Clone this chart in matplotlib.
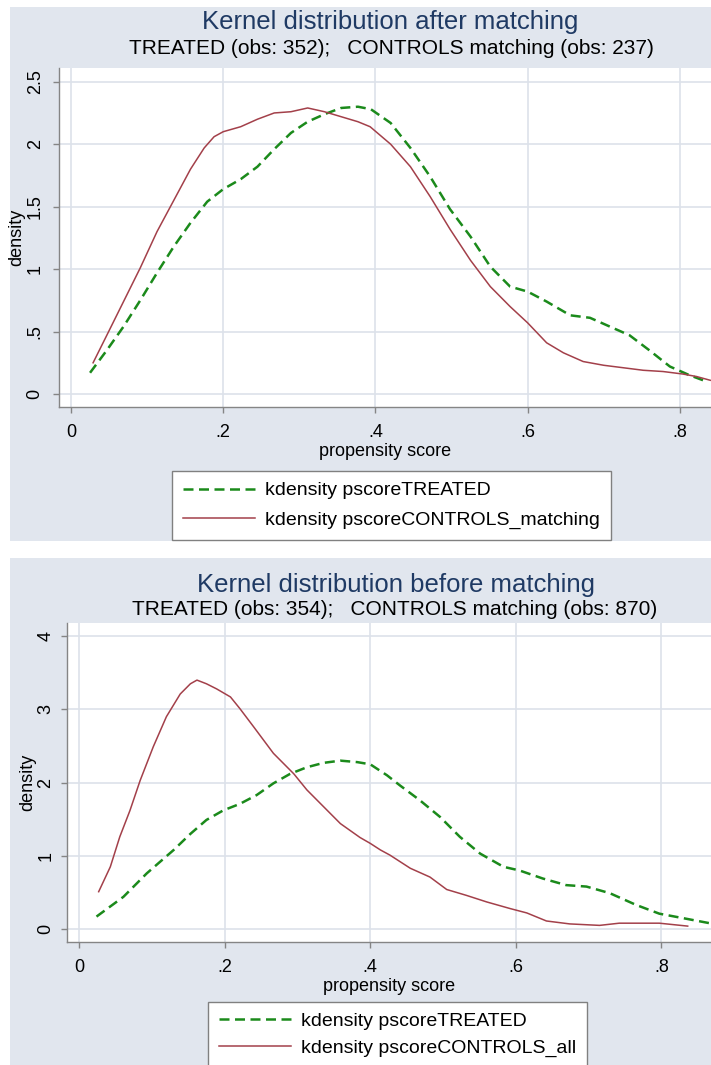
# ─────────────────────────────────────────
# Kernel density of propensity score, before / after matching
# ─────────────────────────────────────────
import matplotlib
matplotlib.use("Agg")
import matplotlib.pyplot as plt
from matplotlib.patches import Rectangle

plt.rcParams["font.family"] = ["Liberation Sans", "DejaVu Sans"]

# ── Data ──────────────────────────────────────────────────────────────────────
after_treated_x = [0.025, 0.047, 0.069, 0.091, 0.113, 0.135, 0.157, 0.179, 0.200,
                   0.223, 0.245, 0.267, 0.289, 0.311, 0.333, 0.355, 0.377, 0.394,
                   0.420, 0.446, 0.472, 0.498, 0.525, 0.551, 0.577, 0.600, 0.625,
                   0.656, 0.682, 0.708, 0.734, 0.760, 0.787, 0.813, 0.835]
after_treated_y = [0.17, 0.35, 0.54, 0.75, 0.97, 1.18, 1.37, 1.54, 1.64,
                   1.72, 1.82, 1.96, 2.09, 2.18, 2.24, 2.29, 2.30, 2.28,
                   2.17, 1.97, 1.74, 1.48, 1.26, 1.02, 0.86, 0.82, 0.74,
                   0.63, 0.61, 0.54, 0.47, 0.35, 0.22, 0.15, 0.10]

after_controls_x = [0.029, 0.047, 0.069, 0.091, 0.113, 0.135, 0.157, 0.175, 0.188,
                    0.200, 0.223, 0.245, 0.267, 0.289, 0.311, 0.333, 0.355, 0.377,
                    0.393, 0.420, 0.446, 0.472, 0.498, 0.525, 0.551, 0.577, 0.600,
                    0.625, 0.647, 0.673, 0.700, 0.726, 0.752, 0.778, 0.804, 0.822,
                    0.840]
after_controls_y = [0.25, 0.47, 0.74, 1.01, 1.30, 1.55, 1.80, 1.97, 2.06,
                    2.10, 2.14, 2.20, 2.25, 2.26, 2.29, 2.26, 2.22, 2.18,
                    2.14, 2.00, 1.82, 1.58, 1.32, 1.07, 0.86, 0.70, 0.57,
                    0.41, 0.33, 0.26, 0.23, 0.21, 0.19, 0.18, 0.16, 0.14,
                    0.11]

before_treated_x = [0.024, 0.061, 0.093, 0.130, 0.153, 0.175, 0.198, 0.221, 0.244,
                    0.267, 0.290, 0.313, 0.336, 0.359, 0.382, 0.400, 0.423, 0.441,
                    0.468, 0.496, 0.523, 0.551, 0.583, 0.605, 0.637, 0.669, 0.697,
                    0.729, 0.765, 0.797, 0.829, 0.866]
before_treated_y = [0.17, 0.44, 0.76, 1.08, 1.30, 1.49, 1.62, 1.71, 1.83,
                    1.99, 2.12, 2.21, 2.27, 2.30, 2.28, 2.25, 2.10, 1.96,
                    1.76, 1.53, 1.26, 1.03, 0.85, 0.80, 0.69, 0.60, 0.58,
                    0.49, 0.33, 0.21, 0.15, 0.08]

before_controls_x = [0.027, 0.043, 0.056, 0.070, 0.084, 0.102, 0.120, 0.139, 0.153,
                     0.162, 0.175, 0.189, 0.208, 0.221, 0.240, 0.267, 0.295, 0.313,
                     0.336, 0.359, 0.386, 0.400, 0.414, 0.427, 0.455, 0.482, 0.505,
                     0.532, 0.560, 0.592, 0.615, 0.642, 0.674, 0.715, 0.742, 0.797,
                     0.836]
before_controls_y = [0.51, 0.85, 1.26, 1.62, 2.03, 2.49, 2.90, 3.21, 3.35,
                     3.40, 3.35, 3.28, 3.17, 3.01, 2.76, 2.40, 2.12, 1.90,
                     1.67, 1.44, 1.25, 1.17, 1.08, 1.01, 0.83, 0.71, 0.54,
                     0.46, 0.37, 0.28, 0.22, 0.11, 0.07, 0.05, 0.08, 0.08,
                     0.04]

x_ticks = [0, 0.2, 0.4, 0.6, 0.8]
x_labels = ["0", ".2", ".4", ".6", ".8"]
after_y_ticks = [0, 0.5, 1, 1.5, 2, 2.5]
after_y_labels = ["0", ".5", "1", "1.5", "2", "2.5"]
before_y_ticks = [0, 1, 2, 3, 4]
before_y_labels = ["0", "1", "2", "3", "4"]

# ── Style ──────────────────────────────────────────────────────────────────────
W, H = 711, 1065
BG = "#e1e6ee"
GRID = "#dde2ea"
AXIS = "#858585"
TITLE_C = "#1f3a64"
GREEN = "#1b8a1b"
RED = "#a3404a"


def fx(px):
    return px / W


def fy(py):
    return 1 - py / H


fig = plt.figure(figsize=(W / 100, H / 100), dpi=100)

# grey panel backgrounds (two stacked Stata graphs)
for top, bottom in [(7, 541), (558, 1065)]:
    fig.patches.append(Rectangle((fx(10), fy(bottom)), fx(W - 10), (bottom - top) / H,
                                 transform=fig.transFigure, facecolor=BG,
                                 edgecolor="none", zorder=-1))


def panel(box, xlim, ylim, yticks, ylabels, tx, ty, tlab, cx, cy, clab,
          leg_xy, ypad, lspace):
    left, top, right, bottom = box
    ax = fig.add_axes([fx(left), fy(bottom), fx(right - left), (bottom - top) / H])
    ax.set_facecolor("white")

    g, = ax.plot(tx, ty, color=GREEN, lw=1.8, label=tlab)
    g.set_dashes((4, 2.2))
    ax.plot(cx, cy, color=RED, lw=1.1, label=clab)

    ax.set_xlim(*xlim)
    ax.set_ylim(*ylim)
    ax.set_xticks(x_ticks)
    ax.set_xticklabels(x_labels)
    ax.set_yticks(yticks)
    ax.set_yticklabels(ylabels, rotation=90, va="center")
    ax.grid(True, color=GRID, lw=1.2)
    ax.set_axisbelow(True)

    for s in ("top", "right"):
        ax.spines[s].set_visible(False)
    for s in ("left", "bottom"):
        ax.spines[s].set_color(AXIS)
        ax.spines[s].set_linewidth(1.0)
    ax.tick_params(direction="out", length=4, width=1, color=AXIS, labelsize=13)
    ax.tick_params(axis="x", pad=8)
    ax.tick_params(axis="y", pad=ypad)

    ax.set_xlabel("propensity score", fontsize=13, labelpad=2)
    ax.set_ylabel("density", fontsize=13, labelpad=1)

    leg = ax.legend(loc="upper left", bbox_to_anchor=(fx(leg_xy[0]), fy(leg_xy[1])),
                    bbox_transform=fig.transFigure, borderaxespad=0, fontsize=14,
                    frameon=True, fancybox=False, edgecolor="#808080", framealpha=1,
                    handlelength=3.7, handletextpad=0.55, labelspacing=lspace,
                    borderpad=0.55)
    leg.get_frame().set_linewidth(1.0)
    return ax


# ── After matching ────────────────────────────────────────────────────────────
fig.text(fx(390), fy(29), "Kernel distribution after matching", ha="center",
         va="baseline", fontsize=18.5, color=TITLE_C)
fig.text(fx(391), fy(54), "TREATED (obs: 352);   CONTROLS matching (obs: 237)",
         ha="center", va="baseline", fontsize=15)
panel((59, 68, W, 407), (-0.0158, 0.841), (-0.104, 2.61),
      after_y_ticks, after_y_labels,
      after_treated_x, after_treated_y, "kdensity pscoreTREATED",
      after_controls_x, after_controls_y, "kdensity pscoreCONTROLS_matching",
      (172, 471), 7, 0.62)

# ── Before matching ───────────────────────────────────────────────────────────
fig.text(fx(396), fy(592), "Kernel distribution before matching", ha="center",
         va="baseline", fontsize=18.5, color=TITLE_C)
fig.text(fx(395), fy(615), "TREATED (obs: 354);   CONTROLS matching (obs: 870)",
         ha="center", va="baseline", fontsize=15)
panel((67, 623, W, 942), (-0.0165, 0.868), (-0.177, 4.18),
      before_y_ticks, before_y_labels,
      before_treated_x, before_treated_y, "kdensity pscoreTREATED",
      before_controls_x, before_controls_y, "kdensity pscoreCONTROLS_all",
      (208, 1002), 5, 0.45)

fig.savefig("out.png", dpi=100)
